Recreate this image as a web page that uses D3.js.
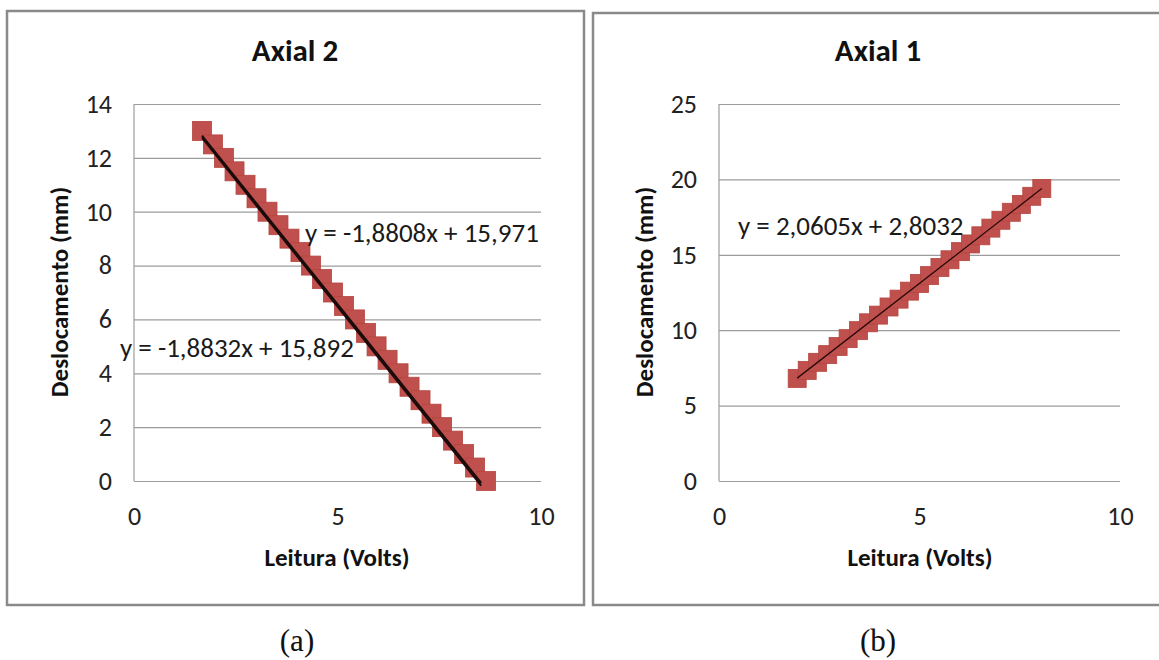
<!DOCTYPE html>
<html>
<head>
<meta charset="utf-8">
<script src="https://cdn.jsdelivr.net/npm/d3@7/dist/d3.min.js"></script>
<style>
  html, body { margin: 0; padding: 0; background: #fff; }
  svg text { font-family: Carlito, Calibri, Lato, "Open Sans", sans-serif; }
</style>
</head>
<body>
<svg id="chart" width="1159" height="660"></svg>
<script>
// ---------- DATA ----------
// Axial 2 (panel a)
const axial2Title = "Axial 2";
const axial2RedX = [1.67, 1.94, 2.21, 2.47, 2.74, 3.01, 3.28, 3.55, 3.82, 4.09, 4.35, 4.62, 4.89, 5.16, 5.43, 5.70, 5.96, 6.23, 6.50, 6.77, 7.04, 7.31, 7.57, 7.84, 8.11, 8.38, 8.65];
const axial2RedY = [13, 12.5, 12, 11.5, 11, 10.5, 10, 9.5, 9, 8.5, 8, 7.5, 7, 6.5, 6, 5.5, 5, 4.5, 4, 3.5, 3, 2.5, 2, 1.5, 1, 0.5, 0];
const axial2BlueX = [1.70, 1.98, 2.25, 2.52, 2.79, 3.06, 3.33, 3.60, 3.87, 4.14, 4.41, 4.68, 4.95, 5.22, 5.49, 5.75, 6.02, 6.29, 6.56, 6.83, 7.10, 7.37, 7.63, 7.90, 8.17, 8.44, 8.70];
const axial2BlueY = [13, 12.5, 12, 11.5, 11, 10.5, 10, 9.5, 9, 8.5, 8, 7.5, 7, 6.5, 6, 5.5, 5, 4.5, 4, 3.5, 3, 2.5, 2, 1.5, 1, 0.5, 0];
const axial2TrendSlopes = [-1.8808, -1.8832];
const axial2TrendIntercepts = [15.971, 15.892];
const axial2EqLabels = ["y = -1,8808x + 15,971", "y = -1,8832x + 15,892"];
const axial2YTicks = [0, 2, 4, 6, 8, 10, 12, 14];
const axial2XTicks = [0, 5, 10];

// Axial 1 (panel b)
const axial1Title = "Axial 1";
const axial1X = [1.95, 2.20, 2.46, 2.71, 2.97, 3.22, 3.48, 3.73, 3.98, 4.24, 4.49, 4.75, 5.00, 5.25, 5.51, 5.76, 6.02, 6.27, 6.53, 6.78, 7.03, 7.29, 7.54, 7.80, 8.05];
const axial1Y = [6.8, 7.33, 7.87, 8.38, 8.92, 9.44, 9.97, 10.49, 11.0, 11.54, 12.06, 12.59, 13.1, 13.62, 14.16, 14.67, 15.21, 15.72, 16.26, 16.77, 17.29, 17.82, 18.34, 18.88, 19.39];
const axial1TrendSlopes = [2.0605];
const axial1TrendIntercepts = [2.8032];
const axial1EqLabels = ["y = 2,0605x + 2,8032"];
const axial1YTicks = [0, 5, 10, 15, 20, 25];
const axial1XTicks = [0, 5, 10];

const xAxisTitle = "Leitura (Volts)";
const yAxisTitle = "Deslocamento (mm)";
const captions = ["(a)", "(b)"];

// ---------- DRAW ----------
const FONT = "Carlito, Calibri, Lato, 'Open Sans', sans-serif";
const svg = d3.select("#chart");
svg.append("rect").attr("width", 1159).attr("height", 660).attr("fill", "#fff");

function drawPanel(o) {
  const g = svg.append("g");
  g.append("rect")
    .attr("x", o.frame[0]).attr("y", o.frame[1])
    .attr("width", o.frame[2]).attr("height", o.frame[3])
    .attr("fill", "#fff").attr("stroke", "#8a8a8a").attr("stroke-width", 2.5);

  const x = d3.scaleLinear().domain([0, 10]).range([o.plot[0], o.plot[1]]);
  const y = d3.scaleLinear().domain([0, o.yMax]).range([o.plot[3], o.plot[2]]);

  const grid = d3.axisLeft(y).tickValues(o.yTicks).tickSize(-(o.plot[1] - o.plot[0])).tickFormat("");
  const gg = g.append("g").attr("transform", `translate(${o.plot[0]},0)`).call(grid);
  gg.select(".domain").remove();
  gg.selectAll("line").attr("stroke", "#9c9c9c").attr("stroke-width", 1.2);

  g.append("line").attr("x1", x(0)).attr("x2", x(0)).attr("y1", y(o.yMax)).attr("y2", y(0))
    .attr("stroke", "#9c9c9c").attr("stroke-width", 1.2);

  const ya = d3.axisLeft(y).tickValues(o.yTicks).tickSize(0).tickPadding(22).tickFormat(d3.format("d"));
  const yg = g.append("g").attr("transform", `translate(${o.plot[0]},0)`).call(ya);
  yg.select(".domain").remove();
  yg.selectAll("text").attr("font-size", 26).attr("fill", "#222").style("font-family", FONT);

  const xa = d3.axisBottom(x).tickValues(o.xTicks).tickSize(0).tickPadding(26).tickFormat(d3.format("d"));
  const xg = g.append("g").attr("transform", `translate(0,${o.plot[3]})`).call(xa);
  xg.select(".domain").remove();
  xg.selectAll("text").attr("font-size", 26).attr("fill", "#222").style("font-family", FONT);

  g.append("text").attr("x", o.titlePos[0]).attr("y", o.titlePos[1])
    .attr("text-anchor", "middle").attr("font-size", 31).attr("font-weight", "bold").attr("fill", "#111")
    .text(o.title);
  g.append("text").attr("x", o.xTitlePos[0]).attr("y", o.xTitlePos[1])
    .attr("text-anchor", "middle").attr("font-size", 25).attr("font-weight", "bold").attr("fill", "#111")
    .text(xAxisTitle);
  g.append("text").attr("transform", `translate(${o.yTitlePos[0]},${o.yTitlePos[1]}) rotate(-90)`)
    .attr("text-anchor", "middle").attr("font-size", 25).attr("font-weight", "bold").attr("fill", "#111")
    .text(yAxisTitle);

  if (o.blueX) {
    const sym = d3.symbol().type(d3.symbolDiamond).size(40);
    g.selectAll(".blue").data(o.blueX.map((v, i) => [v, o.blueY[i]])).enter()
      .append("path").attr("d", sym)
      .attr("transform", d => `translate(${x(d[0])},${y(d[1])})`)
      .attr("fill", "#4F81BD");
  }
  const s = o.markerSize;
  g.selectAll(".red").data(o.redX.map((v, i) => [v, o.redY[i]])).enter()
    .append("rect")
    .attr("x", d => x(d[0]) - s / 2).attr("y", d => y(d[1]) - s / 2)
    .attr("width", s).attr("height", s)
    .attr("fill", "#C0504D").attr("stroke", "#B5453F").attr("stroke-width", 0.8);

  const xmin = d3.min(o.redX), xmax = d3.max(o.redX) - o.trendTrim;
  o.slopes.forEach((m, i) => {
    const b = o.intercepts[i];
    g.append("line")
      .attr("x1", x(xmin)).attr("y1", y(m * xmin + b))
      .attr("x2", x(xmax)).attr("y2", y(m * xmax + b))
      .attr("stroke", o.trendColor).attr("stroke-width", o.trendWidth);
  });

  o.eqLabels.forEach((t, i) => {
    g.append("text").attr("x", o.eqPos[i][0]).attr("y", o.eqPos[i][1])
      .attr("font-size", 27).attr("fill", "#1a1a1a").text(t);
  });

  svg.append("text").attr("x", o.captionPos[0]).attr("y", o.captionPos[1])
    .attr("text-anchor", "middle").attr("font-size", 31)
    .style("font-family", "'Liberation Serif', 'Times New Roman', serif").attr("fill", "#111")
    .text(o.caption);
}

drawPanel({
  frame: [7, 11, 577, 594],
  plot: [134, 541, 104, 481],
  yMax: 14, yTicks: axial2YTicks, xTicks: axial2XTicks,
  title: axial2Title, titlePos: [295, 61],
  xTitlePos: [337, 566], yTitlePos: [68, 292],
  redX: axial2RedX, redY: axial2RedY, blueX: axial2BlueX, blueY: axial2BlueY,
  markerSize: 19, trendTrim: 0.12,
  slopes: axial2TrendSlopes, intercepts: axial2TrendIntercepts,
  trendColor: "#1a0a0a", trendWidth: 2,
  eqLabels: axial2EqLabels, eqPos: [[305, 242], [120, 357]],
  caption: captions[0], captionPos: [297, 651]
});

drawPanel({
  frame: [593, 13, 580, 592],
  plot: [719, 1120, 104, 481],
  yMax: 25, yTicks: axial1YTicks, xTicks: axial1XTicks,
  title: axial1Title, titlePos: [878, 61],
  xTitlePos: [920, 566], yTitlePos: [653, 292],
  redX: axial1X, redY: axial1Y,
  markerSize: 18, trendTrim: 0,
  slopes: axial1TrendSlopes, intercepts: axial1TrendIntercepts,
  trendColor: "#2a0a0a", trendWidth: 1.3,
  eqLabels: axial1EqLabels, eqPos: [[738, 235]],
  caption: captions[1], captionPos: [878, 651]
});
</script>
</body>
</html>
